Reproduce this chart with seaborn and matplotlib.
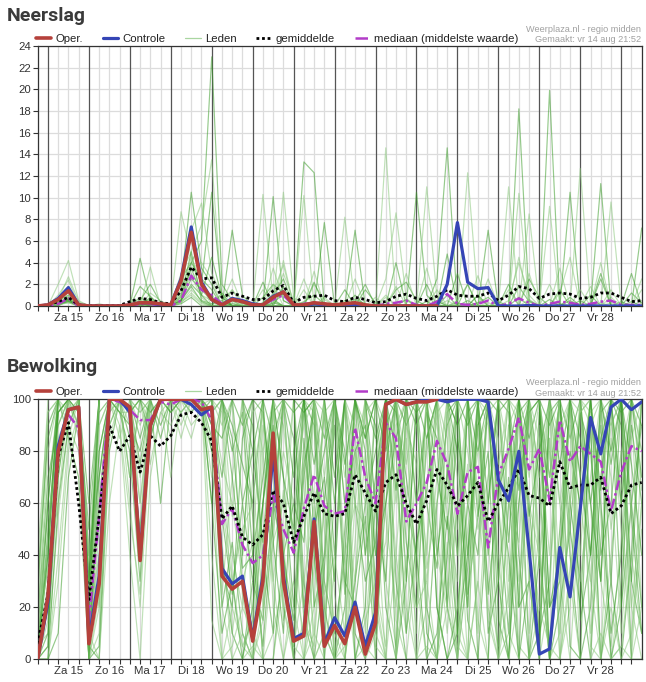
"""
Weerplaza pluim (regio midden): neerslag en bewolking, 6-uurlijks
vanaf vr 14 aug 18:00 tot za 29 aug 12:00.
"""

import numpy as np
import pandas as pd
import matplotlib
matplotlib.use("Agg")
import matplotlib.pyplot as plt
import seaborn as sns
from matplotlib.lines import Line2D

sns.set_style("white")
plt.rcParams["font.family"] = ["Liberation Sans", "DejaVu Sans"]

# ---- Data -----------------------------------------------------------------

dagen = ["Za 15", "Zo 16", "Ma 17", "Di 18", "Wo 19", "Do 20", "Vr 21",
         "Za 22", "Zo 23", "Ma 24", "Di 25", "Wo 26", "Do 27", "Vr 28"]
stappen = np.arange(60)  # 6-uurs stappen

# Neerslag (mm)
neerslag_oper = [0, 0.1, 0.6, 1.4, 0.1, 0, 0, 0, 0, 0.1, 0.3, 0.3, 0.2, 0.1, 2.3, 6.8, 2.0,
                 0.6, 0.1, 0.6, 0.4, 0.1, 0.1, 0.8, 1.3, 0.1, 0.1, 0.3, 0.2, 0.1, 0.2, 0.3, 0.1,
                 0, 0, 0, 0, 0, 0, 0]
neerslag_controle = [0, 0.1, 0.7, 1.7, 0.1, 0, 0, 0, 0, 0.1, 0.3, 0.3, 0.1, 0.1, 2.5, 7.3, 2.2,
                     0.6, 0.1, 0.7, 0.5, 0.2, 0.1, 0.9, 1.3, 0.1, 0, 0.2, 0.1, 0, 0, 0.1, 0,
                     0, 0, 0, 0, 0, 0, 0, 2.0, 7.7, 2.2, 1.6, 1.7, 0, 0, 0, 0.05,
                     0, 0, 0, 0, 0, 0, 0, 0, 0, 0, 0]
neerslag_gemiddelde = [0, 0.1, 0.4, 0.8, 0.1, 0.05, 0.05, 0.05, 0.05, 0.4, 0.7, 0.6, 0.3,
                       0.2, 1.4, 3.6, 2.5, 2.6, 0.8, 1.2, 0.9, 0.6, 0.6, 1.4, 1.9,
                       0.3, 0.8, 0.9, 1.0, 0.5, 0.4, 0.8, 0.6, 0.3, 0.4, 0.9, 1.1,
                       0.7, 0.5, 0.9, 1.5, 1.0, 0.9, 0.9, 1.2, 0.5, 1.0, 1.8, 1.6,
                       0.7, 1.1, 1.2, 1.1, 0.7, 0.8, 1.2, 1.2, 0.8, 0.4, 0.5]
neerslag_mediaan = [0, 0, 0.2, 0.7, 0, 0, 0, 0, 0, 0, 0.2, 0.2, 0, 0, 0.5, 2.8, 1.5,
                    1.0, 0.2, 0.6, 0.4, 0.1, 0.1, 0.6, 1.0, 0, 0.2, 0.3, 0.2, 0, 0.1, 0.2, 0,
                    0, 0.2, 0.3, 0.5, 0.1, 0, 0.4, 1.1, 0.2, 0.1, 0.2, 0.5, 0, 0.2, 0.7, 0.3,
                    0, 0.2, 0.4, 0.3, 0.1, 0.2, 0.4, 0.5, 0.1, 0.1, 0.1]
neerslag_leden = [
    [0, 0, 0.5, 1.0, 0.2, 0, 0, 0, 0, 0, 0.3, 0.6, 0.1, 0, 2.5, 4.0, 6.0, 23.0, 2.0, 0.5, 0, 0, 0.8, 2.0, 1.2, 0, 0.4, 1.0, 0.2, 0, 0, 0.6, 0.2, 0, 0, 1.5, 2.2, 0.5, 0, 0, 1.0, 0, 0, 0.3, 0.8, 0, 0, 1.8, 0.4, 0, 0, 0, 0.5, 0, 0.2, 0, 0, 0, 1.2, 0.3],
    [0, 0, 1.0, 2.4, 0.1, 0, 0, 0.1, 0, 0, 0, 1.2, 0.5, 0, 3.0, 5.0, 7.5, 13.5, 0.5, 1.5, 0.3, 0, 0, 0.5, 3.0, 0.5, 0, 0, 0.8, 0, 0.3, 0, 0, 0, 2.5, 8.6, 0.7, 0, 0, 0.4, 0, 0.5, 2.0, 0, 0, 0, 0.5, 4.0, 1.0, 0, 0, 0, 0, 1.5, 0, 0, 0.3, 0, 0, 0],
    [0, 0, 0.3, 0.8, 0, 0, 0, 0, 0, 0, 1.8, 0.9, 0, 0, 1.5, 6.5, 2.0, 10.5, 0.8, 0, 0, 0, 0.3, 1.0, 2.5, 0, 0, 0.2, 0, 0, 0, 0, 1.5, 0.3, 0, 0, 0, 10.5, 1.0, 0, 0, 0, 0.2, 0, 0, 0.4, 0, 0, 2.5, 0.8, 0, 0.2, 0, 0, 0, 3.0, 0, 0.4, 0, 0],
    [0, 0, 0.2, 1.5, 0.3, 0, 0, 0, 0, 0, 0, 0.4, 0.2, 0, 8.7, 4.5, 1.0, 0.5, 0, 0, 0.3, 0, 1.5, 0.4, 0, 0, 0, 2.0, 0.6, 0, 0, 0, 0, 0, 0, 0.3, 0.5, 0, 11.0, 0.8, 0, 0, 0, 1.0, 0, 0, 0, 0, 0.6, 0, 0, 1.2, 4.5, 0, 0, 0.3, 0, 0, 0, 0.5],
    [0, 0, 0.1, 0.6, 0, 0, 0, 0, 0, 0, 0.5, 2.0, 0.3, 0.2, 2.0, 10.5, 3.5, 2.0, 0, 0.8, 0.2, 0, 0, 0, 1.8, 0, 0, 0, 0, 0, 0, 0.4, 2.0, 0, 0, 0, 0, 0, 0, 2.5, 14.6, 0, 0.5, 0, 0, 0, 0, 0, 0, 0, 0.6, 0, 0, 0, 1.0, 0, 0, 0, 0, 0],
    [0, 0, 0.6, 2.7, 0.4, 0, 0.2, 0, 0, 0, 0, 0.2, 0, 0, 1.0, 7.0, 9.5, 3.0, 1.0, 0, 0, 0, 0, 3.5, 0.5, 0, 1.5, 0, 0, 0, 0, 0, 0, 0, 0.8, 0, 0, 0, 0, 0, 0, 0, 12.3, 0.8, 0, 0, 0, 0, 0, 0, 2.0, 0, 0, 0, 0, 0, 0.8, 0, 0, 2.5],
    [0, 0, 0.2, 0.4, 0, 0, 0, 0, 0, 0, 0.8, 0.2, 0, 0, 0.5, 4.0, 2.5, 1.5, 0, 7.0, 1.0, 0, 0, 0.2, 1.2, 0, 0.3, 0, 0, 0, 0, 0, 0, 0, 0, 0, 0.6, 0, 0, 0, 0, 0.3, 0, 0, 7.0, 0, 0, 0, 0, 0, 0, 0, 0.8, 0, 0, 0, 0, 0, 0, 0],
    [0, 0, 0.3, 0.9, 0.1, 0, 0, 0, 0, 0, 0.2, 0.4, 0, 0, 1.0, 3.5, 4.0, 2.5, 0, 0, 0, 0, 10.3, 0.5, 0, 0, 0, 0, 0.3, 0, 0, 0, 0, 0, 1.0, 0, 0, 0, 0, 0, 0.5, 0, 0, 0, 0, 0, 11.0, 0, 0, 0, 0, 0, 0, 0, 0, 4.0, 0, 0, 0, 0],
    [0, 0, 0.1, 0.7, 0, 0, 0, 0, 0, 0, 0, 0.8, 0, 0, 0.8, 5.0, 0.5, 0.2, 0.5, 0, 0, 0, 0, 10.1, 0.5, 0, 0, 0, 0, 0, 0.5, 0, 0, 0, 0, 0, 0, 0, 0.4, 0, 0, 0, 0, 1.0, 0, 0, 0, 18.2, 0.5, 0, 0, 0, 0, 0.5, 0, 0, 0, 0, 0.4, 0],
    [0, 0, 0.4, 1.3, 0, 0, 0, 0, 0, 0, 0.4, 0, 0, 0, 2.0, 3.0, 1.5, 1.0, 0, 0.3, 0, 0, 0, 0, 10.5, 0.8, 0, 0, 0, 0, 0, 0, 0, 0, 0, 0, 0, 0, 0, 0, 0, 0, 0, 0, 0.3, 0, 0, 10.4, 0, 0, 0, 0, 0, 0, 0, 0, 0, 0, 0, 0],
    [0, 0, 0, 0.5, 0, 0, 0, 0, 0, 0, 0, 0.3, 0.2, 0, 0.5, 2.0, 1.0, 4.5, 0.8, 0, 0, 0, 0, 0.6, 0, 0, 13.3, 12.3, 0, 0, 0, 0, 0, 0, 0, 0, 0, 0, 0, 0, 0, 0, 0, 0, 0, 0, 0, 0.8, 0, 0, 0, 0, 0, 0, 0, 0, 0, 0, 0, 0],
    [0, 0, 0.2, 0.3, 0, 0, 0, 0, 0, 0, 0, 0.6, 0, 0, 0.3, 1.5, 0.5, 0, 0.3, 2.5, 0, 0, 0, 1.2, 3.8, 0, 10.2, 0, 0, 0, 0, 2.5, 0, 0, 0, 0, 3.0, 0, 0, 1.5, 0, 0, 0, 2.8, 0, 0, 0, 0, 8.5, 0, 0, 3.5, 0, 0, 0, 0, 1.5, 0, 0, 0],
    [0, 0, 0.1, 0.4, 0, 0, 0, 0, 0, 0, 0.3, 0, 0, 0, 0.6, 2.5, 1.5, 0.5, 0, 0.2, 0, 0, 0, 0.3, 0, 0, 0, 0, 7.7, 0, 1.5, 0, 0, 0, 0, 4.0, 0, 0, 0, 0.5, 0, 3.0, 0, 0, 0, 0, 2.0, 0, 0, 0, 19.9, 0, 0, 0, 0, 2.5, 0, 0, 3.0, 0],
    [0, 0, 0.5, 1.0, 0, 0, 0, 0, 0, 0, 0, 0.5, 0, 0, 1.2, 4.5, 2.0, 0, 0, 0.5, 0, 0, 0, 0, 4.2, 0, 2.5, 0, 0, 0, 8.2, 0, 0, 0, 0, 0, 0, 0, 3.5, 0, 0, 0, 0, 0, 0, 0, 0, 4.5, 0, 0, 9.2, 0, 0, 0, 0, 0, 0, 0, 0, 1.5],
    [0, 0, 0.3, 0.6, 0, 0, 0, 0, 0, 0, 0, 0, 0, 0, 0.4, 3.5, 1.0, 0, 0, 0, 0, 0, 2.2, 0, 0, 0, 0, 0, 0, 0, 0, 7.0, 0, 0, 0, 0, 0, 0, 0, 0, 4.8, 0, 0, 0, 0, 0, 0, 0, 0, 0, 0, 0, 10.5, 0, 0, 0, 0, 0, 0, 0],
    [0, 0, 0.2, 0.8, 0, 0, 0, 0, 0, 0, 0.2, 0, 0, 0, 0.9, 2.8, 0.8, 0, 0, 0, 0, 0, 0, 0, 0, 0, 0, 3.2, 0, 0, 0, 0, 0, 0, 14.6, 0, 0, 0, 0, 0, 0, 0, 0, 0, 0, 0, 0, 0, 3.0, 0, 0, 0, 0, 12.7, 0, 0, 0, 0, 0, 0],
    [0, 0, 0.4, 0.5, 0, 0, 0, 0, 0, 0, 4.4, 0.5, 0, 0, 0.5, 1.8, 0.4, 0, 1.2, 0, 0, 0, 0, 0, 0, 0, 0, 0, 0, 0, 0, 1.0, 0, 0, 0, 0, 0, 0, 0, 0, 0, 0, 2.0, 0, 0, 0, 0, 0, 0, 0, 0, 0, 0, 0, 0, 11.3, 0, 0, 0, 0],
    [0, 0, 0.1, 0.3, 0, 0, 0, 0, 0, 0, 0, 3.6, 0, 0, 0.4, 1.0, 0.2, 0, 0, 0, 0, 0, 0, 2.0, 0, 0, 0, 0, 0, 0, 0, 0, 0, 0, 0, 1.8, 0, 0, 0, 0, 0, 0, 0, 0, 0, 0, 1.5, 0, 0, 0, 0, 0, 0, 0, 0, 0, 9.6, 0, 0, 0],
    [0, 0, 0.6, 1.8, 0.2, 0, 0, 0, 0, 0, 0.2, 0, 0, 0, 0.2, 0.8, 0, 0, 0, 0, 0, 0, 0, 0, 0, 0, 0, 2.2, 0, 0, 0, 0, 0, 0, 0, 0, 0, 0, 2.0, 0, 0, 0, 0, 0, 0, 0, 0, 0, 0, 0, 0, 1.5, 0, 0, 0, 0, 0, 0, 0, 7.2],
    [0, 0, 2.0, 4.2, 0.5, 0, 0, 0, 0, 0, 0.6, 0.3, 0, 0, 0.3, 1.2, 0.3, 0, 0, 1.5, 0, 0, 0, 0, 0, 0, 0, 0, 0, 0, 0, 0, 0, 0.8, 0, 0, 0, 0, 0, 0, 0, 0, 0, 0, 2.5, 0, 0, 0, 0, 0, 0, 0, 0, 0, 1.8, 0, 0, 0, 0, 0],
]

# Bewolking (%)
bewolking_oper = [0, 24, 80, 96, 97, 6, 29, 100, 100, 97, 38, 90, 100, 100, 100, 100, 96,
                  97, 32, 27, 30, 7, 30, 87, 30, 7, 9, 53, 5, 13, 6, 20, 2,
                  14, 98, 100, 98, 99, 99, 100]
bewolking_controle = [0, 22, 82, 96, 97, 8, 32, 100, 100, 95, 40, 90, 100, 100, 100, 98, 94,
                      97, 35, 29, 32, 8, 32, 80, 32, 8, 10, 54, 6, 16, 9, 22, 5,
                      18, 98, 100, 98, 99, 100, 100, 99, 100, 100, 100, 99, 69, 61, 80, 42,
                      2, 4, 43, 24, 58, 93, 79, 97, 100, 96, 99]
bewolking_gemiddelde = [6, 25, 78, 91, 60, 23, 55, 90, 80, 86, 72, 86, 82, 86, 94, 95, 91,
                        84, 54, 59, 47, 44, 48, 65, 60, 45, 55, 64, 56, 55, 56, 71, 64,
                        57, 68, 71, 60, 52, 61, 73, 67, 59, 63, 68, 53, 60, 66, 73, 63,
                        62, 59, 76, 66, 67, 67, 70, 56, 59, 67, 68]
bewolking_mediaan = [0, 25, 82, 94, 89, 15, 55, 100, 99, 96, 92, 92, 99, 98, 100, 100, 99,
                     92, 52, 58, 44, 37, 40, 63, 50, 41, 58, 71, 59, 56, 57, 89, 70,
                     60, 91, 85, 53, 60, 68, 84, 75, 56, 72, 74, 43, 71, 81, 93, 73,
                     81, 61, 92, 76, 82, 79, 76, 57, 72, 82, 80]
bewolking_leden = [
    [5, 40, 95, 100, 100, 10, 60, 100, 100, 100, 85, 100, 100, 95, 100, 100, 100, 90, 20, 45, 10, 0, 60, 100, 70, 20, 75, 95, 30, 10, 40, 100, 80, 30, 90, 100, 60, 40, 100, 100, 20, 0, 35, 90, 100, 60, 10, 95, 100, 70, 0, 50, 100, 100, 40, 85, 100, 20, 60, 90],
    [0, 15, 70, 98, 90, 0, 25, 95, 100, 90, 60, 95, 100, 100, 100, 100, 98, 100, 60, 30, 5, 15, 90, 70, 20, 5, 30, 60, 15, 60, 100, 80, 40, 100, 55, 20, 90, 75, 30, 70, 100, 100, 100, 65, 30, 5, 90, 100, 50, 20, 85, 10, 60, 95, 100, 30, 5, 45, 100, 80],
    [10, 60, 100, 100, 95, 20, 80, 100, 95, 80, 30, 90, 100, 100, 95, 100, 100, 60, 100, 80, 95, 40, 5, 55, 100, 85, 15, 0, 35, 90, 25, 100, 70, 10, 60, 85, 100, 100, 20, 0, 75, 40, 95, 100, 10, 30, 70, 0, 95, 100, 60, 100, 40, 0, 20, 100, 75, 100, 30, 10],
    [0, 5, 55, 90, 100, 35, 100, 100, 85, 100, 100, 75, 95, 90, 100, 100, 100, 100, 95, 10, 40, 95, 100, 20, 0, 30, 100, 95, 50, 0, 10, 75, 100, 25, 0, 40, 95, 60, 100, 100, 30, 0, 50, 80, 95, 100, 30, 60, 100, 45, 0, 90, 100, 70, 100, 55, 0, 30, 85, 100],
    [25, 90, 100, 85, 70, 0, 5, 90, 100, 100, 75, 100, 85, 100, 100, 95, 100, 95, 70, 100, 60, 80, 45, 95, 100, 100, 20, 50, 95, 40, 100, 10, 0, 60, 100, 100, 45, 20, 85, 100, 100, 90, 15, 0, 60, 100, 100, 20, 30, 95, 60, 100, 100, 15, 40, 95, 100, 100, 60, 20],
    [0, 0, 30, 80, 95, 15, 100, 100, 100, 100, 95, 100, 100, 85, 95, 100, 100, 70, 100, 100, 25, 0, 40, 100, 90, 55, 0, 20, 100, 100, 60, 30, 80, 5, 0, 90, 100, 30, 100, 50, 10, 60, 100, 100, 95, 40, 0, 75, 100, 0, 100, 60, 25, 100, 90, 0, 40, 80, 100, 65],
    [15, 70, 90, 100, 100, 30, 95, 100, 100, 70, 100, 100, 90, 100, 100, 100, 95, 100, 40, 10, 0, 30, 15, 60, 100, 70, 100, 90, 10, 0, 50, 100, 100, 90, 20, 0, 30, 100, 60, 35, 95, 100, 25, 55, 80, 0, 60, 100, 85, 100, 20, 30, 100, 55, 100, 100, 30, 0, 40, 100],
    [0, 30, 100, 95, 100, 5, 40, 100, 95, 95, 100, 90, 100, 100, 90, 100, 100, 100, 100, 55, 100, 100, 80, 30, 65, 10, 60, 100, 100, 25, 0, 60, 95, 100, 90, 15, 0, 40, 80, 100, 55, 30, 100, 15, 0, 60, 100, 90, 100, 35, 85, 0, 20, 100, 10, 45, 90, 100, 95, 20],
    [30, 85, 100, 100, 100, 40, 70, 100, 100, 85, 50, 100, 100, 100, 100, 100, 100, 95, 100, 90, 75, 60, 100, 85, 100, 40, 95, 100, 60, 100, 30, 20, 55, 0, 75, 100, 90, 100, 10, 0, 40, 85, 60, 100, 100, 100, 100, 40, 0, 10, 95, 100, 60, 30, 0, 70, 100, 90, 30, 100],
    [5, 10, 80, 100, 90, 0, 10, 95, 100, 100, 90, 100, 100, 100, 100, 90, 95, 80, 0, 20, 5, 0, 20, 45, 60, 100, 55, 10, 0, 35, 100, 90, 10, 65, 100, 60, 100, 0, 45, 95, 100, 70, 0, 30, 100, 85, 20, 100, 70, 100, 100, 30, 0, 60, 90, 100, 100, 50, 0, 60],
    [0, 50, 95, 100, 100, 25, 100, 100, 100, 100, 100, 100, 100, 100, 100, 100, 100, 90, 85, 100, 100, 100, 95, 60, 40, 15, 70, 100, 85, 100, 100, 60, 30, 45, 100, 100, 100, 90, 100, 70, 50, 100, 40, 90, 100, 15, 0, 80, 100, 100, 70, 100, 85, 100, 100, 40, 60, 100, 100, 90],
    [20, 95, 100, 100, 90, 0, 50, 100, 100, 60, 20, 85, 100, 95, 100, 100, 100, 100, 20, 0, 0, 5, 0, 10, 30, 0, 15, 5, 60, 10, 0, 45, 100, 100, 30, 5, 60, 90, 100, 100, 100, 50, 100, 60, 20, 0, 25, 100, 100, 60, 100, 85, 100, 100, 5, 0, 20, 0, 10, 50],
    [0, 0, 60, 90, 100, 20, 100, 100, 95, 90, 80, 100, 100, 100, 100, 100, 100, 100, 100, 100, 90, 100, 100, 100, 100, 95, 100, 75, 100, 60, 100, 100, 85, 100, 80, 100, 30, 100, 100, 20, 0, 20, 60, 40, 100, 95, 100, 100, 60, 10, 30, 100, 100, 85, 60, 90, 0, 20, 100, 100],
    [10, 35, 85, 95, 100, 40, 20, 85, 100, 100, 60, 100, 100, 70, 100, 100, 100, 100, 60, 40, 20, 70, 95, 30, 0, 20, 0, 40, 100, 0, 40, 0, 15, 30, 5, 70, 20, 0, 20, 100, 85, 20, 0, 100, 100, 30, 90, 5, 0, 90, 0, 10, 100, 40, 100, 100, 90, 100, 20, 0],
    [0, 20, 75, 100, 100, 60, 100, 100, 100, 100, 100, 95, 100, 100, 100, 100, 100, 80, 100, 100, 100, 55, 0, 0, 40, 60, 45, 100, 20, 0, 0, 30, 60, 80, 100, 95, 70, 40, 0, 60, 90, 100, 100, 100, 40, 70, 40, 0, 30, 0, 100, 100, 50, 20, 90, 0, 30, 100, 55, 10],
    [40, 95, 100, 90, 80, 25, 90, 100, 100, 95, 100, 100, 100, 100, 95, 85, 100, 100, 90, 100, 100, 10, 100, 100, 40, 100, 100, 100, 95, 100, 70, 100, 100, 40, 100, 100, 100, 100, 100, 100, 75, 10, 0, 100, 100, 100, 100, 100, 100, 85, 40, 100, 100, 100, 95, 100, 100, 65, 100, 100],
    [0, 45, 100, 100, 95, 5, 0, 80, 100, 100, 100, 100, 60, 100, 100, 100, 100, 85, 55, 25, 60, 30, 60, 100, 100, 100, 30, 0, 0, 0, 20, 100, 100, 100, 100, 30, 0, 0, 0, 10, 55, 10, 40, 100, 25, 65, 80, 100, 0, 40, 0, 20, 50, 95, 80, 30, 100, 100, 0, 0],
    [0, 25, 90, 100, 100, 15, 40, 100, 100, 100, 70, 100, 100, 100, 100, 100, 100, 100, 75, 60, 30, 45, 100, 100, 15, 30, 10, 100, 70, 100, 100, 0, 5, 0, 100, 100, 60, 20, 30, 0, 100, 100, 80, 50, 70, 100, 60, 45, 100, 70, 100, 60, 90, 0, 0, 100, 100, 60, 100, 80],
    [0, 10, 70, 100, 100, 0, 80, 100, 100, 95, 100, 100, 100, 100, 100, 100, 100, 100, 100, 100, 100, 90, 40, 10, 100, 100, 100, 20, 40, 100, 80, 0, 20, 100, 100, 0, 100, 60, 95, 85, 20, 100, 100, 0, 0, 100, 95, 20, 100, 100, 100, 100, 5, 0, 100, 100, 100, 100, 75, 40],
    [15, 80, 100, 100, 100, 0, 20, 90, 100, 100, 95, 100, 100, 100, 100, 100, 100, 100, 45, 0, 0, 0, 15, 100, 45, 0, 0, 35, 100, 0, 0, 100, 90, 60, 0, 0, 100, 100, 35, 60, 100, 0, 100, 100, 90, 60, 100, 95, 30, 0, 25, 100, 100, 100, 60, 0, 85, 60, 5, 80],
    [0, 5, 100, 100, 100, 30, 100, 100, 100, 100, 100, 100, 100, 95, 100, 100, 100, 100, 100, 85, 40, 100, 100, 100, 70, 50, 100, 100, 100, 70, 100, 100, 100, 85, 100, 65, 100, 100, 85, 100, 100, 100, 100, 55, 100, 100, 45, 100, 100, 100, 100, 75, 100, 100, 100, 65, 100, 95, 100, 100],
    [20, 55, 80, 100, 85, 10, 0, 60, 90, 40, 0, 70, 95, 100, 85, 100, 100, 40, 0, 5, 20, 10, 0, 0, 30, 5, 0, 0, 10, 0, 5, 20, 0, 10, 0, 0, 40, 0, 5, 0, 20, 5, 0, 30, 0, 0, 10, 0, 0, 20, 5, 0, 30, 0, 0, 10, 0, 5, 0, 20],
    [0, 40, 100, 100, 100, 20, 100, 100, 100, 100, 100, 100, 100, 100, 100, 100, 100, 60, 10, 30, 0, 20, 60, 90, 40, 0, 85, 40, 0, 100, 60, 80, 90, 40, 60, 100, 100, 95, 100, 20, 0, 10, 100, 80, 100, 30, 0, 60, 95, 100, 20, 40, 80, 60, 100, 60, 10, 40, 90, 60],
    [5, 65, 100, 100, 100, 0, 100, 100, 100, 100, 100, 100, 100, 100, 100, 100, 100, 100, 25, 70, 100, 100, 30, 50, 80, 60, 90, 100, 25, 40, 10, 80, 60, 20, 90, 40, 10, 80, 40, 100, 100, 40, 75, 10, 70, 100, 80, 30, 60, 40, 80, 20, 100, 30, 70, 100, 50, 80, 20, 60],
    [0, 0, 10, 70, 95, 50, 100, 100, 100, 100, 100, 100, 100, 100, 100, 100, 100, 100, 100, 100, 100, 80, 100, 100, 100, 100, 95, 100, 100, 100, 100, 100, 85, 100, 100, 100, 100, 100, 100, 100, 100, 90, 100, 100, 100, 100, 100, 100, 100, 100, 90, 100, 100, 100, 100, 100, 80, 100, 100, 100],
    [10, 35, 60, 100, 100, 0, 60, 100, 100, 70, 100, 100, 100, 100, 100, 95, 100, 15, 0, 0, 10, 0, 80, 100, 20, 0, 0, 10, 60, 0, 0, 30, 100, 20, 0, 0, 85, 30, 0, 0, 45, 0, 60, 90, 15, 0, 0, 25, 100, 40, 0, 0, 60, 100, 30, 0, 0, 5, 40, 10],
    [0, 20, 95, 100, 100, 10, 100, 100, 100, 100, 100, 85, 100, 100, 100, 100, 100, 100, 100, 70, 35, 40, 70, 100, 100, 100, 100, 60, 80, 100, 75, 100, 100, 60, 30, 100, 100, 100, 100, 40, 70, 100, 90, 100, 100, 100, 100, 100, 55, 80, 100, 100, 100, 70, 40, 100, 100, 100, 100, 70],
    [30, 100, 100, 100, 100, 40, 100, 100, 90, 55, 25, 100, 100, 100, 100, 100, 100, 100, 100, 30, 50, 60, 0, 45, 100, 45, 80, 0, 10, 100, 40, 60, 50, 30, 45, 100, 60, 10, 100, 40, 20, 60, 20, 100, 45, 0, 60, 70, 10, 50, 100, 0, 35, 60, 30, 95, 70, 10, 60, 100],
    [0, 60, 100, 100, 100, 0, 70, 100, 100, 100, 100, 100, 100, 100, 100, 100, 100, 100, 35, 20, 85, 100, 100, 45, 10, 80, 100, 50, 70, 30, 100, 100, 40, 70, 100, 80, 10, 45, 65, 100, 100, 80, 20, 100, 60, 100, 100, 65, 100, 100, 0, 40, 100, 100, 60, 30, 100, 60, 100, 100],
    [0, 0, 40, 85, 100, 10, 90, 100, 100, 100, 100, 100, 100, 100, 100, 100, 100, 95, 100, 100, 100, 70, 20, 80, 100, 100, 100, 100, 100, 100, 100, 70, 100, 100, 100, 100, 75, 100, 100, 90, 60, 100, 100, 100, 100, 75, 100, 100, 100, 100, 70, 100, 100, 95, 100, 100, 100, 100, 100, 100],
]

for reeks in neerslag_leden + bewolking_leden:
    assert len(reeks) == len(stappen)

# ---- Stijl ----------------------------------------------------------------

KLEUR_OPER = "#b5413b"
KLEUR_CONTROLE = "#3545b5"
KLEUR_MEDIAAN = "#b23cc8"
GROEN = ["#3e9e2c", "#8cc97e"]


def teken_paneel(ax, leden, oper, controle, gemiddelde, mediaan, ymax, ystap):
    # 6-uurs lijnen, dagscheiding donker
    for s in stappen:
        if s % 4 == 1:
            ax.axvline(s, color="#555555", lw=0.9, zorder=1)
        else:
            ax.axvline(s, color="#dcdcdc", lw=0.9, zorder=0.5)

    rijen = [(f"lid{n:02d}", s, w) for n, reeks in enumerate(leden) for s, w in zip(stappen, reeks)]
    df = pd.DataFrame(rijen, columns=["lid", "stap", "waarde"])
    palet = [GROEN[n % 2] for n in range(len(leden))]
    sns.lineplot(data=df, x="stap", y="waarde", hue="lid", palette=palet, estimator=None,
                 legend=False, lw=0.85, alpha=0.55, ax=ax, zorder=2)

    sns.lineplot(x=stappen, y=mediaan, color=KLEUR_MEDIAAN, lw=1.8,
                 linestyle=(0, (4, 1.3, 1, 1.3)), ax=ax, zorder=3)
    sns.lineplot(x=stappen, y=gemiddelde, color="black", lw=2.0,
                 linestyle=(0, (1, 1)), ax=ax, zorder=4)
    sns.lineplot(x=stappen[:len(controle)], y=controle, color=KLEUR_CONTROLE, lw=2.3, ax=ax, zorder=5)
    sns.lineplot(x=stappen[:len(oper)], y=oper, color=KLEUR_OPER, lw=2.6, ax=ax, zorder=6)

    ax.set_xlim(0, 59)
    ax.set_ylim(0, ymax)
    ax.set_yticks(np.arange(0, ymax + 1, ystap))
    ax.yaxis.grid(True, color="#dcdcdc", lw=0.9)
    ax.set_axisbelow(True)

    middag = np.arange(3, 59, 4)
    ax.set_xticks(middag)
    ax.set_xticklabels(dagen)
    ax.set_xticks([s for s in stappen if s % 4 != 3], minor=True)
    ax.tick_params(axis="both", which="both", bottom=True, left=True, direction="out",
                   length=3.5, width=0.8, color="#333333", labelsize=8.2,
                   labelcolor="#333333", pad=1.5)
    ax.set_xlabel("")
    ax.set_ylabel("")
    for spine in ax.spines.values():
        spine.set_color("#333333")
        spine.set_linewidth(0.9)


def legenda(fig, y):
    handles = [
        Line2D([], [], color=KLEUR_OPER, lw=2.6),
        Line2D([], [], color=KLEUR_CONTROLE, lw=2.3),
        Line2D([], [], color="#a9d6a0", lw=0.9),
        Line2D([], [], color="black", lw=2.0, linestyle=(0, (1, 1))),
        Line2D([], [], color=KLEUR_MEDIAAN, lw=1.8, linestyle=(0, (5, 1.3, 1, 1.3))),
    ]
    labels = ["Oper.", "Controle", "Leden", "gemiddelde", "mediaan (middelste waarde)"]
    fig.legend(handles, labels, loc="center left", bbox_to_anchor=(36 / 646, y), ncol=5,
               frameon=False, fontsize=8.2, handlelength=1.35, handletextpad=0.35,
               columnspacing=1.75, borderpad=0, borderaxespad=0, labelcolor="#222222")


W, H = 646, 682
fig = plt.figure(figsize=(W / 100, H / 100), dpi=100)

ax_top = fig.add_axes([37.7 / W, 1 - 306 / H, 604 / W, 260 / H])
ax_bot = fig.add_axes([37.7 / W, 1 - 659.3 / H, 604 / W, 260 / H])

teken_paneel(ax_top, neerslag_leden, neerslag_oper, neerslag_controle,
             neerslag_gemiddelde, neerslag_mediaan, 24, 2)
teken_paneel(ax_bot, bewolking_leden, bewolking_oper, bewolking_controle,
             bewolking_gemiddelde, bewolking_mediaan, 100, 20)

for titel, basis, leg_y, wm_y in [("Neerslag", 21, 39, 29.5), ("Bewolking", 372, 392, 383)]:
    fig.text(7 / W, 1 - basis / H, titel, fontsize=14, weight="bold", color="#3a3a3a",
             va="baseline", family=["Roboto", "DejaVu Sans"])
    legenda(fig, 1 - leg_y / H)
    fig.text(641 / W, 1 - wm_y / H, "Weerplaza.nl - regio midden", ha="right", va="center",
             fontsize=6.6, color="#a0a0a0")
    fig.text(641 / W, 1 - (wm_y + 10) / H, "Gemaakt: vr 14 aug 21:52", ha="right", va="center",
             fontsize=6.6, color="#a0a0a0")

fig.savefig("out.png", dpi=100)
